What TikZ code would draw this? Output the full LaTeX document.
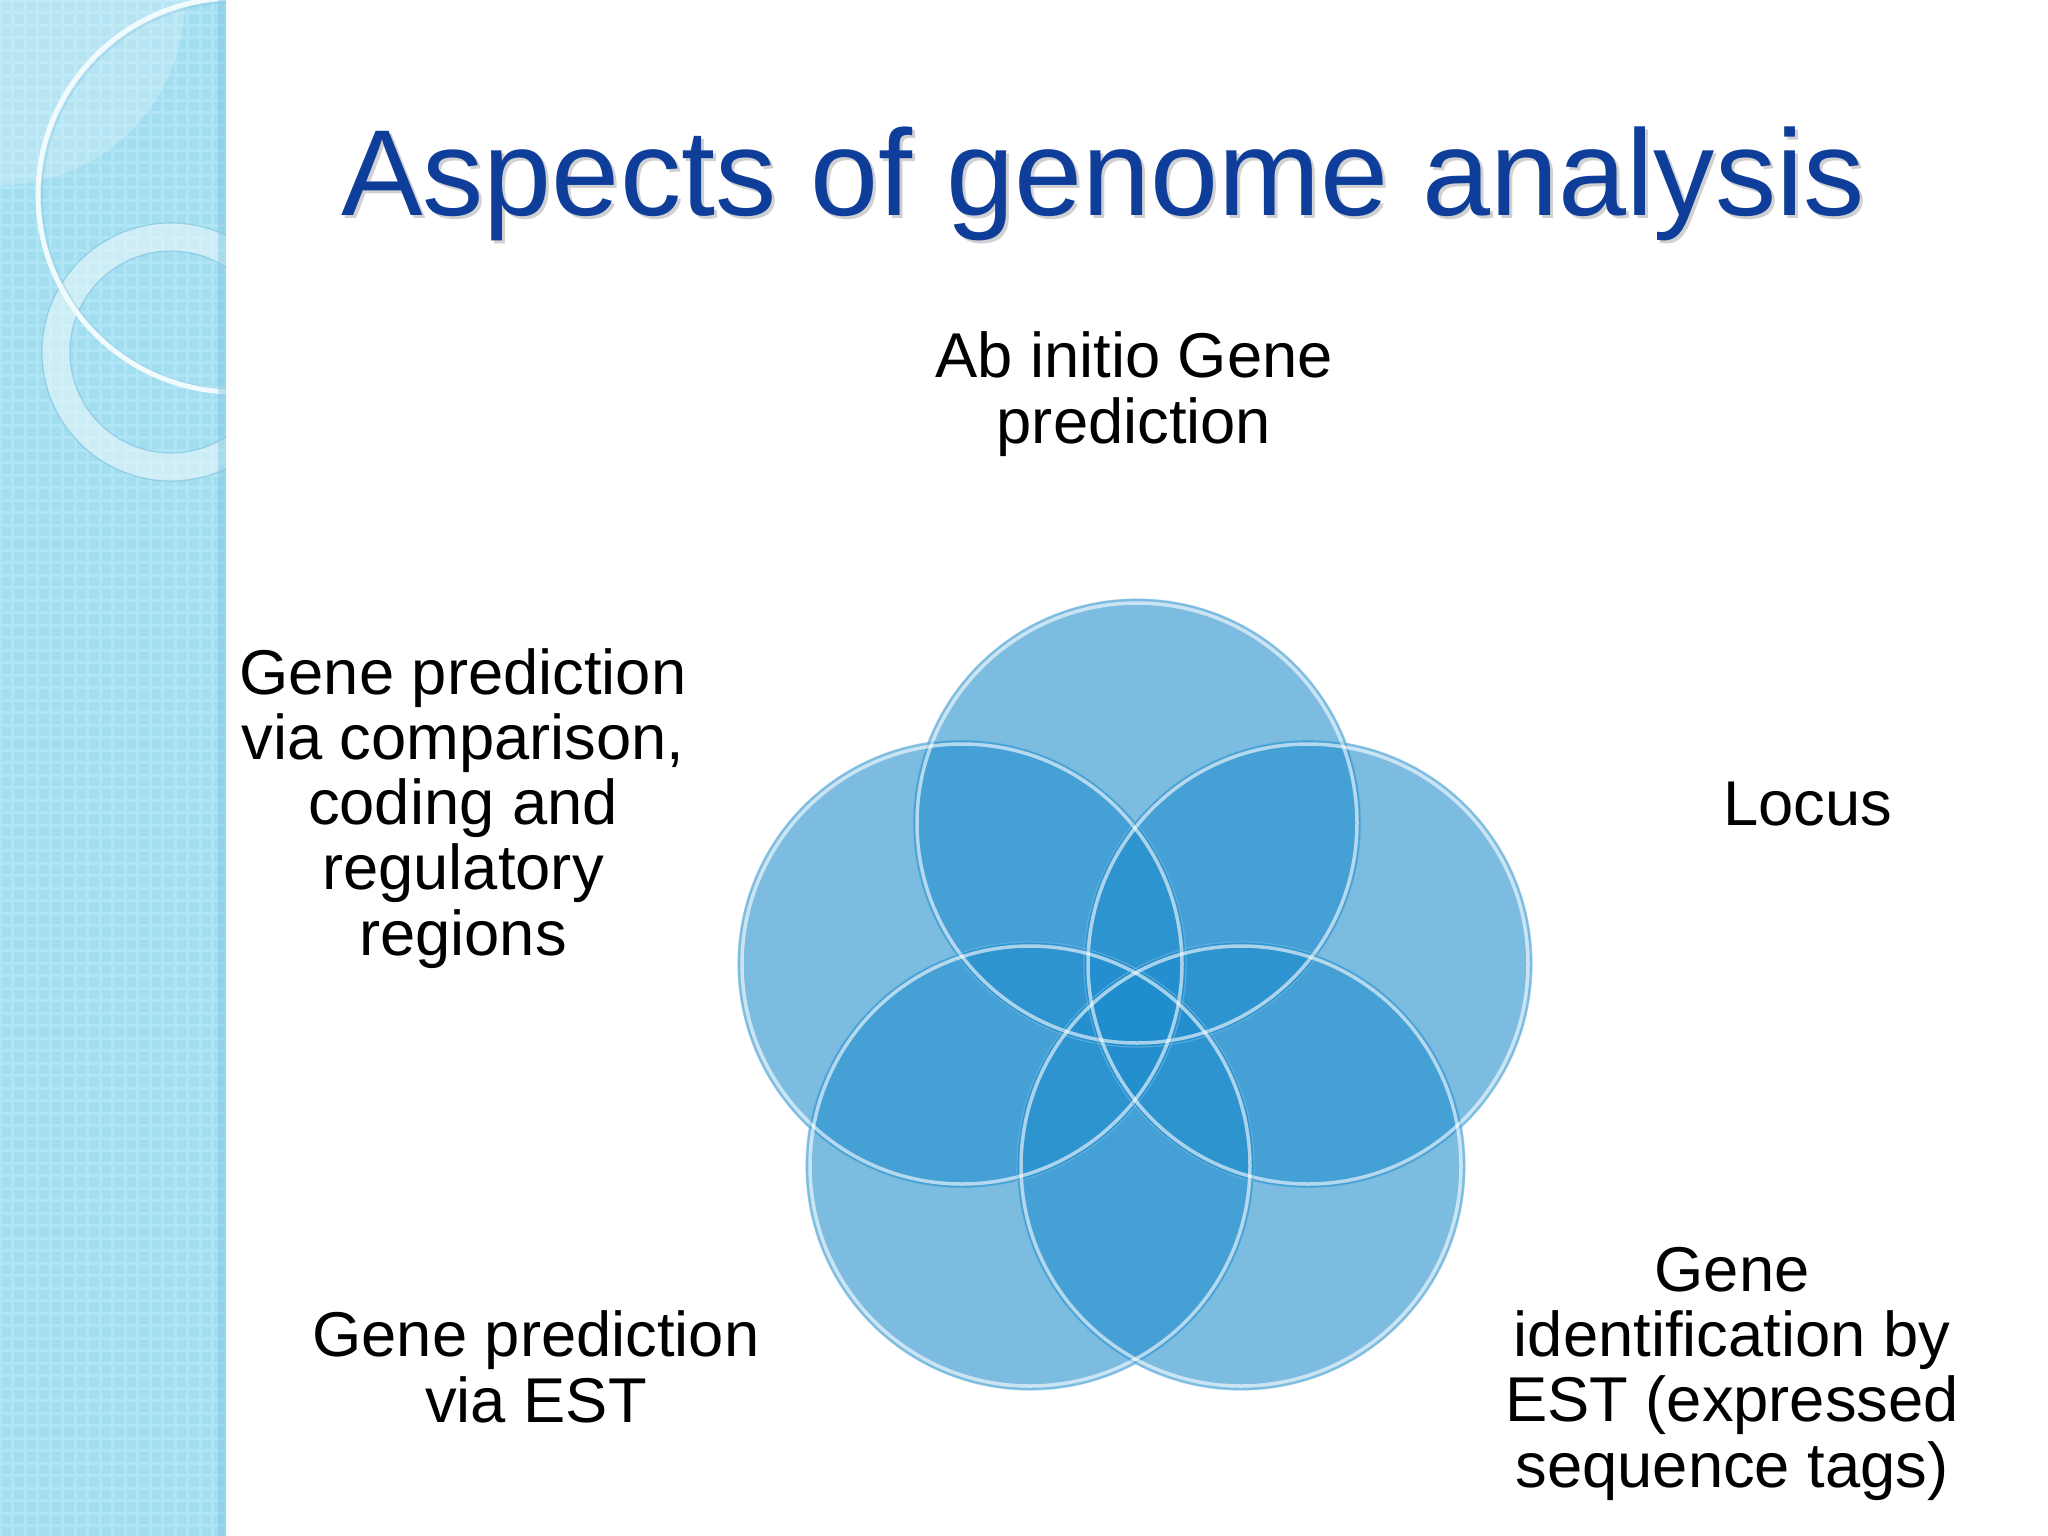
\documentclass[tikz,border=0pt]{standalone}
\usepackage{fontspec}
\setmainfont{Liberation Sans}
\definecolor{band}{RGB}{163,221,240}
\definecolor{bandgrid}{RGB}{176,229,245}
\definecolor{bandedge}{RGB}{128,196,224}
\definecolor{titleblue}{RGB}{14,62,154}
\definecolor{discblue}{RGB}{30,140,205}
\tikzset{
  disc/.style={circle, minimum size=4.48cm, inner sep=0pt, fill=discblue, fill opacity=0.58, draw=none},
  rim/.style={draw=white, draw opacity=0.6, line width=0.035cm},
  rimout/.style={draw=discblue!55, draw opacity=0.5, line width=0.012cm},
  lbl/.style={font=\fontsize{18}{18.5}\selectfont, align=center, anchor=base, inner sep=0pt, text=black},
  titlestyle/.style={font=\fontsize{34.8}{40}\selectfont, anchor=base, inner sep=0pt}
}
\begin{document}
\begin{tikzpicture}[x=0.01cm, y=-0.01cm]
\useasboundingbox (0,0) rectangle (2048,1536);
\fill[white] (0,0) rectangle (2048,1536);
% left band
\fill[band] (0,0) rectangle (226,1536);
\begin{scope}
  \clip (0,0) rectangle (226,1536);
  \draw[bandgrid, line width=0.03cm, step=0.125cm] (0,0) grid (226,1536);
  \fill[white, opacity=0.22] (0,0) circle[radius=185];
  \draw[white, opacity=0.45, line width=0.28cm] (171,352) circle[radius=115];
  \draw[bandedge, opacity=0.7, line width=0.012cm] (171,352) circle[radius=129];
  \draw[bandedge, opacity=0.7, line width=0.012cm] (171,352) circle[radius=101];
  \draw[bandedge, opacity=0.35, line width=0.02cm] (236,196) circle[radius=194];
  \draw[white!85!band, line width=0.05cm] (235,195) circle[radius=197];
\end{scope}
\fill[bandedge, opacity=0.45] (218,0) rectangle (226,1536);
% title
\node[titlestyle, text=black, opacity=0.18] (titleshadow) at (1106,218) {Aspects of genome analysis};
\node[titlestyle, text=titleblue] (title) at (1103,215) {Aspects of genome analysis};
% discs
\node[disc] (dT) at (1137,823) {};
\node[disc] (dL) at (962,964) {};
\node[disc] (dR) at (1308,964) {};
\node[disc] (dBL) at (1030,1166) {};
\node[disc] (dBR) at (1241,1166) {};
\foreach \d in {dT,dL,dR,dBL,dBR}{
  \draw[rimout] (\d.center) circle[radius=224];
  \draw[rim] (\d.center) circle[radius=220];
}
% labels (base anchor = baseline of last line)
\node[lbl] (top) at (1134,443) {Ab initio Gene\\prediction};
\node[lbl] (left) at (463,955) {Gene prediction\\via comparison,\\coding and\\regulatory\\regions};
\node[lbl] (locus) at (1808,825) {Locus};
\node[lbl] (bl) at (536,1422) {Gene prediction\\via EST};
\node[lbl] (br) at (1732,1487) {Gene\\identification by\\EST (expressed\\sequence tags)};
\end{tikzpicture}
\end{document}
